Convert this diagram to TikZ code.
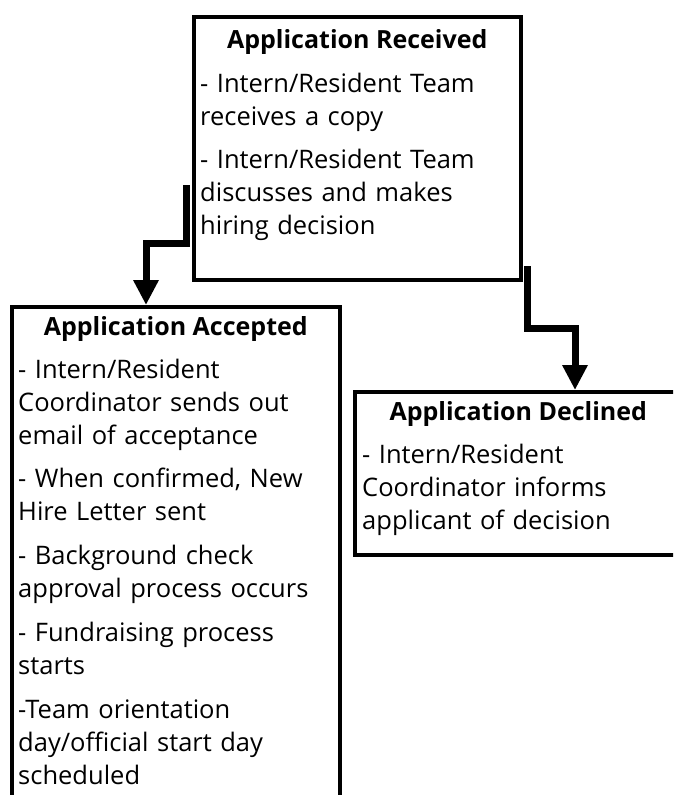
\documentclass[tikz,border=0pt]{standalone}
\usepackage{fontspec}
\setmainfont{Open Sans}
\usetikzlibrary{arrows.meta}

\newcommand{\stagefont}{\fontsize{25.5}{33}\selectfont}
\newcommand{\stagetitlefont}{\fontsize{25}{33}\selectfont\bfseries}

\tikzset{
  stagebox/.style={draw=black, line width=4pt, minimum width=327.5pt, anchor=north west, inner sep=0pt},
  stagetitle/.style={font=\stagetitlefont, anchor=base, inner sep=0pt},
  stagetext/.style={font=\stagefont, text width=318pt, align=left, anchor=base west, inner sep=0pt},
  flow/.style={line width=7pt, -{Triangle[width=24pt,length=25pt]}}
}

\begin{document}
\begin{tikzpicture}[x=1pt, y=-1pt]
  \useasboundingbox (0,0) rectangle (673,795);
  \clip (0,0) rectangle (673,795);

  % Received
  \node[stagebox, minimum height=262.5pt] (recv) at (191.5,15) {};
  \node[stagetitle] (recv-title) at ([yshift=-33pt]recv.north) {Application Received};
  \node[stagetext] (recv-text) at ([xshift=8.5pt,yshift=-77pt]recv.north west)
    {- Intern/Resident Team\\ receives a copy\\[10pt]
     - Intern/Resident Team\\ discusses and makes\\ hiring decision};

  % Accepted
  \node[stagebox, minimum height=600pt] (acc) at (10,305) {};
  \node[stagetitle] (acc-title) at ([yshift=-30pt]acc.north) {Application Accepted};
  \node[stagetext] (acc-text) at ([xshift=8pt,yshift=-73pt]acc.north west)
    {- Intern/Resident\\ Coordinator sends out\\ email of acceptance\\[10pt]
     - When confirmed, New\\ Hire Letter sent\\[11pt]
     - Background check\\ approval process occurs\\[11pt]
     - Fundraising process\\ starts\\[11pt]
     -Team orientation\\ day/official start day\\ scheduled};

  % Declined
  \node[stagebox, minimum height=163pt] (decl) at (352.5,390) {};
  \node[stagetitle] (decl-title) at ([yshift=-30pt]decl.north) {Application Declined};
  \node[stagetext] (decl-text) at ([xshift=9.5pt,yshift=-73pt]decl.north west)
    {- Intern/Resident\\ Coordinator informs\\ applicant of decision};

  % Connectors
  \draw[flow] ([xshift=-5pt,yshift=-36.75pt]recv.west)
    |- ([xshift=136pt,yshift=61.5pt]acc.north west) -- ([xshift=136pt]acc.north west);
  \draw[flow] ([xshift=4pt,yshift=15.5pt]recv.south east)
    |- ([xshift=222.5pt,yshift=62pt]decl.north west) -- ([xshift=222.5pt]decl.north west);
\end{tikzpicture}
\end{document}
